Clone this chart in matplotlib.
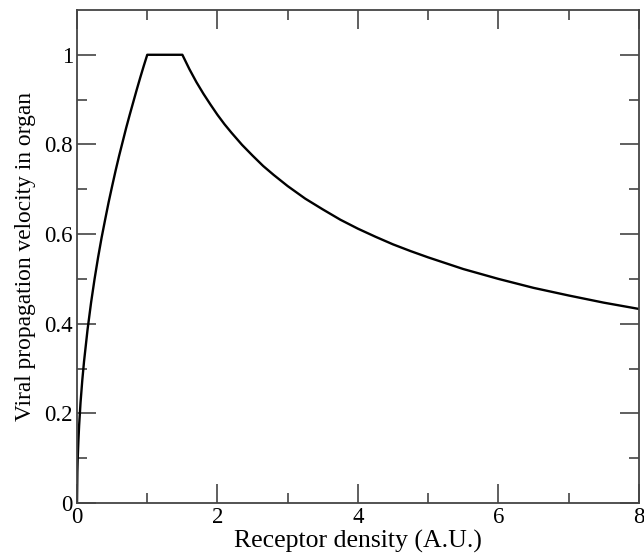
import matplotlib
matplotlib.use('Agg')
import matplotlib.pyplot as plt

# values
density = [0, 0.005, 0.01, 0.02, 0.03, 0.05, 0.075, 0.1, 0.15, 0.2, 0.25, 0.3, 0.35, 0.4, 0.45,
           0.5, 0.55, 0.6, 0.65, 0.7, 0.75, 0.8, 0.85, 0.9, 0.95, 1.0,
           1.5, 1.55, 1.6, 1.7, 1.8, 1.9, 2.0, 2.1, 2.2, 2.35, 2.5, 2.65, 2.8, 3.0, 3.25, 3.5, 3.75,
           4.0, 4.25, 4.5, 4.75, 5.0, 5.5, 6.0, 6.5, 7.0, 7.5, 8.0]
velocity = [0, 0.07, 0.10, 0.14, 0.173, 0.224, 0.274, 0.316, 0.387, 0.447, 0.5, 0.548, 0.592, 0.632, 0.671,
            0.707, 0.742, 0.775, 0.806, 0.837, 0.866, 0.894, 0.922, 0.949, 0.975, 1.0,
            1.0, 0.984, 0.968, 0.939, 0.913, 0.889, 0.866, 0.845, 0.826, 0.799, 0.775, 0.752, 0.732, 0.707,
            0.679, 0.655, 0.632, 0.612, 0.594, 0.577, 0.562, 0.548, 0.522, 0.50, 0.480, 0.463, 0.447, 0.433]

x_ticks = [0, 2, 4, 6, 8]
y_ticks = [0, 0.2, 0.4, 0.6, 0.8, 1.0]
y_tick_labels = ['0', '0.2', '0.4', '0.6', '0.8', '1']

plt.rcParams['font.family'] = ['Liberation Serif', 'DejaVu Serif']

fig = plt.figure(figsize=(6.44, 5.53), dpi=100)
ax = fig.add_axes([0.1196, 0.0904, 0.8724, 0.8916])
ax.plot(density, velocity, '-', color='black', lw=1.7)

ax.set_xlim(0, 8)
ax.set_ylim(0, 1.1)
ax.set_xticks(x_ticks)
ax.set_xticklabels([str(t) for t in x_ticks], fontsize=16.5)
ax.set_xticks([1, 3, 5, 7], minor=True)
ax.set_yticks(y_ticks)
ax.set_yticklabels(y_tick_labels, fontsize=16.5)
ax.set_yticks([0.1, 0.3, 0.5, 0.7, 0.9], minor=True)
ax.tick_params(which='both', direction='in', top=True, right=True, color='#444444', width=1.2)
ax.tick_params(which='major', length=14, pad=3)
ax.tick_params(which='minor', length=7)
for s in ax.spines.values():
    s.set_color('#444444')
    s.set_linewidth(1.3)

ax.set_xlabel('Receptor density (A.U.)', fontsize=18.5, labelpad=1)
ax.set_ylabel('Viral propagation velocity in organ', fontsize=16.8, labelpad=6)

fig.savefig('out.png', dpi=100)
